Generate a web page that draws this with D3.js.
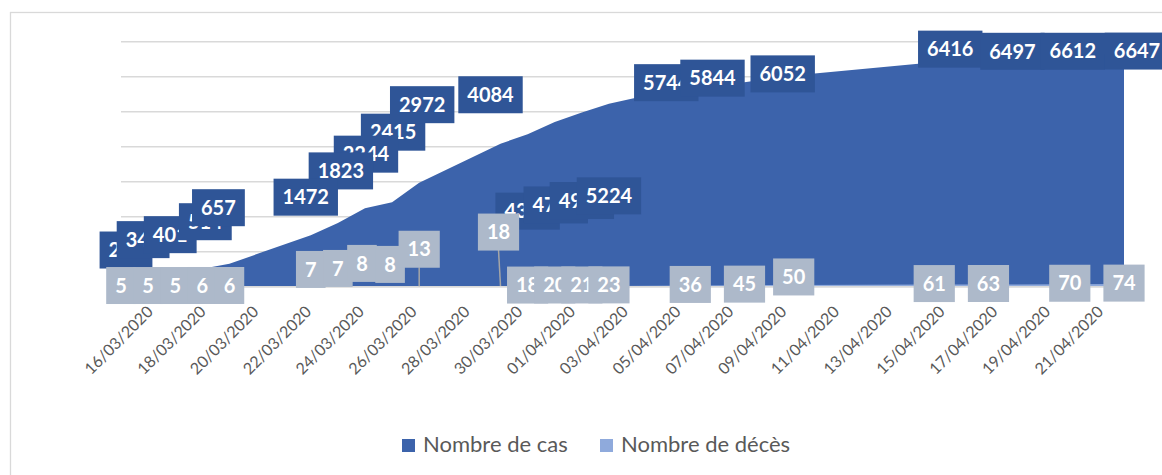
<!DOCTYPE html>
<html>
<head>
<meta charset="utf-8">
<script src="https://cdn.jsdelivr.net/npm/d3@7"></script>
<style>
  body { margin: 0; background: #fff; }
  svg { display: block; font-family: Lato, "Open Sans", sans-serif; }
</style>
</head>
<body>
<svg width="1162" height="475"></svg>
<script>
// data (hidden labels estimated)
const dates = ["16/03/2020", "17/03/2020", "18/03/2020", "19/03/2020", "20/03/2020",
    "23/03/2020", "24/03/2020", "25/03/2020", "26/03/2020", "27/03/2020",
    "30/03/2020", "31/03/2020", "01/04/2020", "02/04/2020", "03/04/2020",
    "06/04/2020", "08/04/2020", "10/04/2020", "15/04/2020", "17/04/2020",
    "20/04/2020", "22/04/2020"];
const cases = [248, 345, 401, 514, 657, 1472, 1823, 2244, 2415, 2972, 4084,
    4359, 4707, 4976, 5224, 5744, 5844, 6052, 6416, 6497, 6612, 6647];
const deaths = [5, 5, 5, 6, 6, 7, 7, 8, 8, 13, 18, 18, 20, 21, 23, 36, 45, 50,
    61, 63, 70, 74];
const tickLabels = ["16/03/2020", "18/03/2020", "20/03/2020", "22/03/2020",
    "24/03/2020", "26/03/2020", "28/03/2020", "30/03/2020", "01/04/2020",
    "03/04/2020", "05/04/2020", "07/04/2020", "09/04/2020", "11/04/2020",
    "13/04/2020", "15/04/2020", "17/04/2020", "19/04/2020", "21/04/2020"];
const seriesNames = ["Nombre de cas", "Nombre de décès"];

// label boxes were dragged around in the original, offsets in px from the point
const caseLabelOffset = [[5, -28], [-5, -35], [-5, -38], [3, -47], [-11, -56],
    [-5, -38], [3, -52], [1, -54], [1, -70], [3, -78], [-10, -49],
    [0, 77], [1, 83], [0, 88], [0, 92], [-24, -3], [-32, -4], [-16, -1],
    [16, -13], [24, -8], [3, -4], [13, -3]];
// z-order of the case labels (the 23/03-26/03 staircase sits the other way round)
const caseDrawOrder = [0, 1, 2, 3, 4, 8, 7, 6, 5, 9, 10, 11, 12, 13, 14, 15, 16,
    17, 18, 19, 20, 21];
const deathLabelOffset = [[0, -1], [0, -1], [0, -1], [0, -1], [0, -1],
    [0, -17], [0, -18], [-3, -23], [-2, -22], [0, -37], [-2, -54],
    [0, -1], [0, -1], [0, -1], [0, -1], [0, -1], [0, -1], [-5, -8],
    [0, -1], [0, -1], [0, -1], [0, -1]];
const leaderLines = [9, 10]; // death labels with a leader line

const parse = d3.timeParse("%d/%m/%Y");
const data = dates.map((d, i) => ({date: parse(d), cases: cases[i], deaths: deaths[i]}));

const svg = d3.select("svg");
const colCases = "#3c63ab", colCasesLbl = "#2f5597", colDeaths = "#8faadc", colDeathsLbl = "#adb9ca";

// chart border
svg.append("rect").attr("x", 10.5).attr("y", 12.5).attr("width", 1170).attr("height", 480)
    .attr("fill", "none").attr("stroke", "#d9d9d9").attr("stroke-width", 1.3);

let x = d3.scaleTime().domain([parse("16/03/2020"), parse("22/04/2020")]).range([121, 1124]),
    y = d3.scaleLinear().domain([0, 7000]).range([286.7, 41.7]);
// the category labels in the original run on a slightly tighter pitch than the points
let xLabels = d3.scaleTime().domain([parse("15/03/2020"), parse("22/04/2020")]).range([121, 1124]);

// gridlines
svg.append("g").selectAll("line")
    .data(y.ticks(7))
    .join("line")
    .attr("x1", 121).attr("x2", 1124)
    .attr("y1", d => y(d)).attr("y2", d => y(d))
    .attr("stroke", "#d9d9d9").attr("stroke-width", 1.4);

let areaCases = d3.area()
    .x(d => x(d.date))
    .y0(y(0))
    .y1(d => y(d.cases));
let areaDeaths = d3.area()
    .x(d => x(d.date))
    .y0(y(0))
    .y1(d => y(d.deaths));

svg.append("path").datum(data).attr("d", areaCases).attr("fill", colCases);
svg.append("path").datum(data).attr("d", areaDeaths).attr("fill", colDeaths);

// x axis
let xAxis = svg.append("g").attr("transform", "translate(0," + y(0) + ")")
    .call(d3.axisBottom(xLabels).tickValues(tickLabels.map(parse)).tickSize(0).tickFormat(d3.timeFormat("%d/%m/%Y")));
xAxis.select(".domain").remove();
svg.append("line")
    .attr("x1", x.range()[0]).attr("x2", x.range()[1])
    .attr("y1", y(0)).attr("y2", y(0))
    .attr("stroke", "#d9d9d9").attr("stroke-width", 1.4);
xAxis.selectAll("text")
    .attr("fill", "#595959")
    .style("font-size", "16px")
    .style("font-family", "Lato, sans-serif")
    .attr("text-anchor", "end")
    .attr("dy", "0.35em")
    .attr("transform", "translate(0,20) rotate(-45)");

// data labels
function drawLabels(key, offsets, fill, order) {
    let g = svg.append("g");
    order.forEach(i => {
        let d = data[i];
        let cx = x(d.date) + offsets[i][0],
            cy = y(d[key]) + offsets[i][1];
        let lbl = g.append("g");
        let r = lbl.append("rect").attr("fill", fill);
        let t = lbl.append("text")
            .attr("x", cx).attr("y", cy)
            .attr("dy", "0.36em")
            .attr("text-anchor", "middle")
            .attr("fill", "#fff")
            .style("font-weight", "bold")
            .style("font-size", "20px")
            .text(d[key]);
        let w = t.node().getComputedTextLength() + 18;
        r.attr("x", cx - w / 2).attr("y", cy - 18.5).attr("width", w).attr("height", 37);
    });
}
drawLabels("cases", caseLabelOffset, colCasesLbl, caseDrawOrder);

// leader lines for the death labels lifted away from their point
svg.append("g").selectAll("line")
    .data(leaderLines)
    .join("line")
    .attr("x1", i => x(data[i].date) + deathLabelOffset[i][0])
    .attr("y1", i => y(data[i].deaths) + deathLabelOffset[i][1] + 18)
    .attr("x2", i => x(data[i].date))
    .attr("y2", i => y(data[i].deaths))
    .attr("stroke", "#a6a6a6").attr("stroke-width", 1.5);

drawLabels("deaths", deathLabelOffset, colDeathsLbl, d3.range(data.length));

// legend
let legend = svg.append("g");
let lx = [402, 600];
seriesNames.forEach((s, i) => {
    legend.append("rect").attr("x", lx[i]).attr("y", 439).attr("width", 13).attr("height", 13)
        .attr("fill", i === 0 ? colCases : colDeaths);
    legend.append("text").attr("x", lx[i] + 21).attr("y", 452)
        .attr("fill", "#595959").style("font-size", "22px").text(s);
});
</script>
</body>
</html>
